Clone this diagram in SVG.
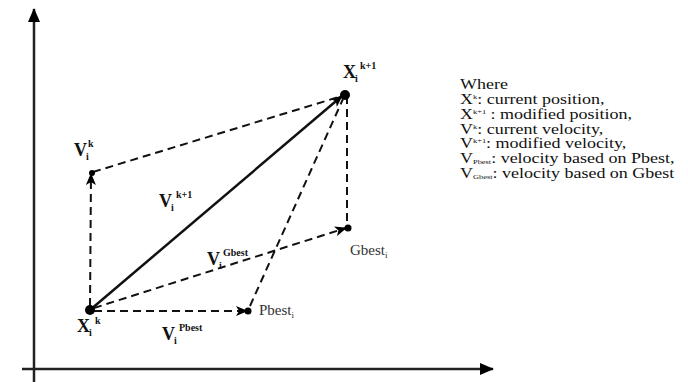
<svg xmlns="http://www.w3.org/2000/svg" width="688" height="382" viewBox="0 0 688 382">
<defs>
<marker id="ah" markerUnits="userSpaceOnUse" markerWidth="12" markerHeight="10" refX="11" refY="5" orient="auto">
<path d="M0,0 L12,5 L0,10 L3,5 z" fill="#000"/>
</marker>
<marker id="axh" markerUnits="userSpaceOnUse" markerWidth="14" markerHeight="12" refX="13" refY="6" orient="auto">
<path d="M0,0 L14,6 L0,12 z" fill="#000"/>
</marker>
<style>
.axis{stroke:#222;stroke-width:2.5;fill:none}
.dash{stroke:#111;stroke-width:2;stroke-dasharray:8 5;fill:none}
.solid{stroke:#111;stroke-width:2.5;fill:none}
.dot{fill:#000}
.lbl{font-family:"Liberation Serif","Times New Roman",serif;font-weight:bold;fill:#111}
.big{font-size:18px}
.sm{font-size:10px}
.pt{font-family:"Liberation Serif","Times New Roman",serif;font-size:15px;fill:#333}
.leg{font-family:"Liberation Serif","Times New Roman",serif;font-size:15px;fill:#111}
</style>
</defs>
<g id="axes">
<line class="axis" x1="34" y1="382" x2="34" y2="9" marker-end="url(#axh)"/>
<line class="axis" x1="22" y1="369" x2="493" y2="369" marker-end="url(#axh)"/>
</g>
<g id="connectors">
<line class="solid" x1="90" y1="310" x2="342" y2="96" marker-end="url(#ah)"/>
<line class="dash" x1="90" y1="306" x2="91" y2="174" marker-end="url(#ah)"/>
<line class="dash" x1="93" y1="172" x2="342" y2="96"/>
<line class="dash" x1="94" y1="308" x2="346" y2="228" marker-end="url(#ah)"/>
<line class="dash" x1="347" y1="96" x2="347" y2="228"/>
<line class="dash" x1="94" y1="311" x2="247" y2="311" marker-end="url(#ah)"/>
<line class="dash" x1="250" y1="306" x2="343" y2="99"/>
</g>
<g id="xk">
<circle class="dot" cx="90" cy="310" r="5"/>
<text class="lbl big" x="77" y="332">X</text>
<text class="lbl sm" x="89" y="336">i</text>
<text class="lbl sm" x="95" y="324">k</text>
</g>
<g id="xk1">
<circle class="dot" cx="345" cy="95" r="5"/>
<text class="lbl big" x="343" y="78">X</text>
<text class="lbl sm" x="355" y="82">i</text>
<text class="lbl sm" x="360" y="69">k+1</text>
</g>
<g id="vk">
<circle class="dot" cx="92" cy="173" r="3"/>
<text class="lbl big" x="74" y="156">V</text>
<text class="lbl sm" x="86" y="160">i</text>
<text class="lbl sm" x="88" y="147">k</text>
</g>
<g id="vk1">
<text class="lbl big" x="159" y="207">V</text>
<text class="lbl sm" x="171" y="211">i</text>
<text class="lbl sm" x="176" y="198">k+1</text>
</g>
<g id="vgbest">
<text class="lbl big" x="207" y="265">V</text>
<text class="lbl sm" x="219" y="269">i</text>
<text class="lbl sm" x="223" y="256">Gbest</text>
</g>
<g id="vpbest">
<text class="lbl big" x="162" y="340">V</text>
<text class="lbl sm" x="174" y="344">i</text>
<text class="lbl sm" x="179" y="331">Pbest</text>
</g>
<g id="gbest">
<circle class="dot" cx="348" cy="228" r="3.5"/>
<text class="pt" x="350" y="255">Gbest<tspan font-size="9" dy="3">i</tspan></text>
</g>
<g id="pbest">
<circle class="dot" cx="248" cy="311" r="3.5"/>
<text class="pt" x="259" y="315">Pbest<tspan font-size="9" dy="3">i</tspan></text>
</g>
<g id="legend" transform="translate(460,0) scale(1.2,1)">
<text class="leg" x="0" y="89">Where</text>
<text class="leg" x="0" y="104">X<tspan font-size="7" dy="-5">k</tspan><tspan dy="5">: current position,</tspan></text>
<text class="leg" x="0" y="119">X<tspan font-size="7" dy="-5">k+1</tspan><tspan dy="5"> : modified position,</tspan></text>
<text class="leg" x="0" y="134">V<tspan font-size="7" dy="-5">k</tspan><tspan dy="5">: current velocity,</tspan></text>
<text class="leg" x="0" y="148">V<tspan font-size="7" dy="-5">k+1</tspan><tspan dy="5">: modified velocity,</tspan></text>
<text class="leg" x="0" y="163">V<tspan font-size="7" dy="1">Pbest</tspan><tspan dy="-1">: velocity based on Pbest,</tspan></text>
<text class="leg" x="0" y="178">V<tspan font-size="7" dy="1">Gbest</tspan><tspan dy="-1">: velocity based on Gbest</tspan></text>
</g>
</svg>
